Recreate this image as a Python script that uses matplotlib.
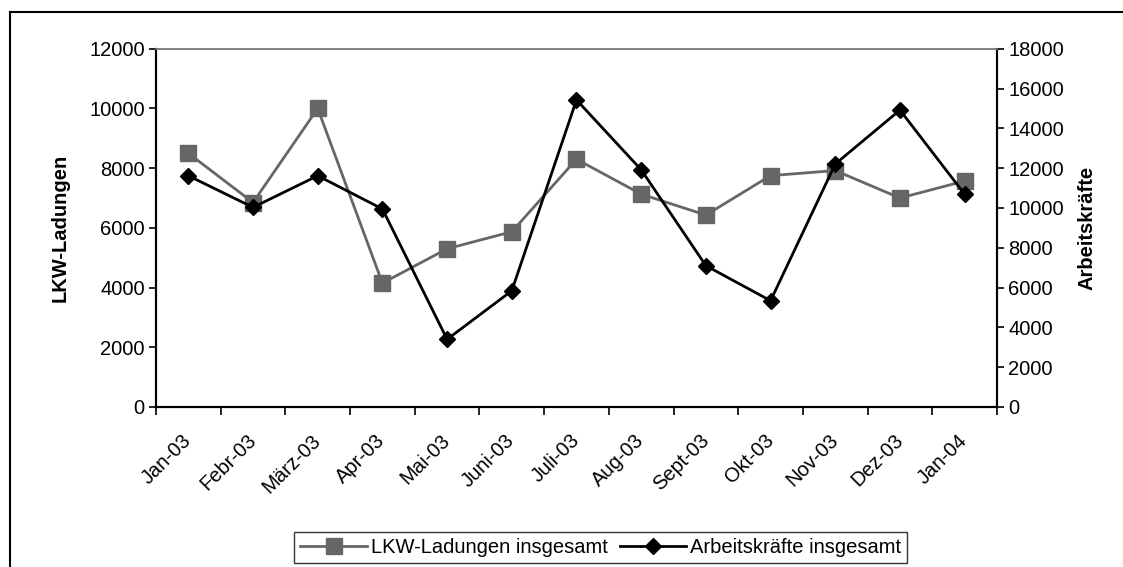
import matplotlib.pyplot as plt
import numpy as np
from matplotlib.lines import Line2D

plt.rcParams['font.family'] = ['Liberation Sans', 'DejaVu Sans']

months = ['Jan-03', 'Febr-03', 'März-03', 'Apr-03', 'Mai-03', 'Juni-03', 'Juli-03',
          'Aug-03', 'Sept-03', 'Okt-03', 'Nov-03', 'Dez-03', 'Jan-04']
lkw = [8500, 6850, 10000, 4150, 5300, 5870, 8300, 7130, 6430, 7750, 7920, 7000, 7570]
arbeit = [11620, 10030, 11620, 9950, 3400, 5840, 15430, 11920, 7100, 5340, 12210, 14920, 10690]

fs = 14.5
fig = plt.figure(figsize=(11.23, 5.67), dpi=100)
ax = fig.add_axes([0.1389, 0.2822, 0.7489, 0.6318])
ax2 = ax.twinx()

x = np.arange(len(months))
ax.plot(x, lkw, color='#666666', lw=2, marker='s', ms=11, mec='#666666', mfc='#666666')
ax2.plot(x, arbeit, color='black', lw=2, marker='D', ms=8.5, mec='black', mfc='black')

ax.set_xlim(-0.5, len(months) - 0.5)
ax.set_ylim(0, 12000)
ax2.set_ylim(0, 18000)
ax.set_yticks(range(0, 12001, 2000))
ax2.set_yticks(range(0, 18001, 2000))

ax.set_xticks(np.arange(-0.5, len(months), 1.0))
ax.set_xticklabels([])
ax.set_xticks(x, minor=True)
ax.set_xticklabels(months, minor=True, rotation=45, ha='right', va='center',
                   rotation_mode='anchor', fontsize=fs)
ax.tick_params(axis='x', which='major', direction='out', length=6, width=1.2, color='black')
ax.tick_params(axis='x', which='minor', length=0, pad=22)
ax.tick_params(axis='y', direction='out', length=5, width=1.2, labelsize=fs, pad=3)
ax2.tick_params(axis='y', direction='out', length=5, width=1.2, labelsize=fs, pad=3)

for a in (ax, ax2):
    a.spines['top'].set_color('#808080')
    a.spines['top'].set_linewidth(1.2)
    for s in ('left', 'right', 'bottom'):
        a.spines[s].set_color('black')
        a.spines[s].set_linewidth(1.5)

ax.set_ylabel('LKW-Ladungen', fontsize=fs, fontweight='bold', labelpad=14)
ax2.set_ylabel('Arbeitskräfte', fontsize=fs, fontweight='bold', labelpad=10)

handles = [Line2D([], [], color='#666666', lw=2, marker='s', ms=11, mec='#666666'),
           Line2D([], [], color='black', lw=2, marker='D', ms=8.5)]
leg = fig.legend(handles, ['LKW-Ladungen insgesamt', 'Arbeitskräfte insgesamt'],
                 loc='upper center', bbox_to_anchor=(0.535, 0.061), ncol=2,
                 fontsize=fs, frameon=True, fancybox=False, edgecolor='black',
                 handlelength=3.3, handletextpad=0.2, columnspacing=0.6,
                 borderpad=0.3, borderaxespad=0)
leg.get_frame().set_linewidth(1.0)

# outer chart frame
fig.add_artist(Line2D([0.009, 0.009], [0, 0.978], color='black', lw=1.5, transform=fig.transFigure))
fig.add_artist(Line2D([0.009, 1.0], [0.978, 0.978], color='black', lw=1.5, transform=fig.transFigure))

fig.savefig('out.png', dpi=100)
